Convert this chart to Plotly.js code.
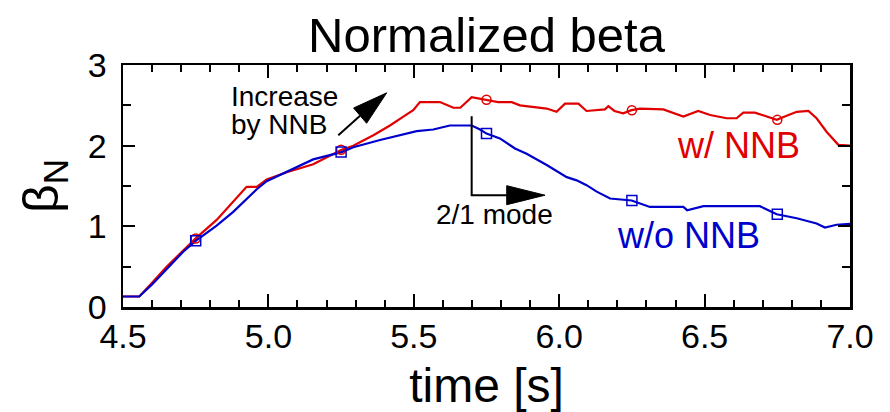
<!DOCTYPE html>
<html>
<head>
<meta charset="utf-8">
<script src="https://cdn.plot.ly/plotly-3.0.1.min.js"></script>
<style>html,body{margin:0;padding:0;background:#fff;}#chart{width:890px;height:412px;}</style>
</head>
<body>
<div id="chart"></div>
<script>
// ---- data ----
const timeWithNNB = [4.50,4.556,4.60,4.65,4.707,4.75,4.822,4.879,4.925,4.96,4.994,5.063,5.154,5.252,5.292,5.361,5.418,5.464,5.498,5.521,5.59,5.636,5.66,5.699,5.75,5.79,5.837,5.865,5.957,5.991,6.02,6.066,6.094,6.157,6.169,6.19,6.22,6.249,6.278,6.358,6.427,6.478,6.519,6.576,6.61,6.633,6.673,6.713,6.748,6.782,6.817,6.857,6.885,6.92,6.96,7.0];
const betaWithNNB = [0.13,0.13,0.30,0.50,0.70,0.85,1.08,1.30,1.49,1.49,1.58,1.67,1.77,1.95,2.00,2.13,2.25,2.36,2.44,2.54,2.54,2.47,2.47,2.60,2.57,2.54,2.54,2.50,2.46,2.42,2.52,2.52,2.43,2.45,2.49,2.43,2.40,2.44,2.46,2.45,2.36,2.43,2.38,2.34,2.34,2.41,2.41,2.36,2.32,2.37,2.42,2.43,2.34,2.17,2.01,2.00];

const timeWithoutNNB = [4.50,4.556,4.60,4.65,4.707,4.75,4.822,4.879,4.914,4.96,4.994,5.063,5.154,5.252,5.292,5.384,5.45,5.51,5.567,5.624,5.699,5.728,5.75,5.796,5.848,5.888,5.957,6.026,6.06,6.094,6.129,6.175,6.249,6.312,6.427,6.44,6.496,6.69,6.748,6.817,6.885,6.914,6.954,7.0];
const betaWithoutNNB = [0.13,0.13,0.28,0.47,0.685,0.82,1.01,1.18,1.30,1.46,1.56,1.68,1.83,1.92,1.98,2.07,2.13,2.18,2.20,2.25,2.25,2.20,2.15,2.09,1.965,1.90,1.76,1.61,1.57,1.51,1.43,1.345,1.32,1.24,1.24,1.20,1.25,1.25,1.15,1.10,1.035,0.985,1.02,1.03];

const markerTimes = [4.75,5.25,5.75,6.25,6.75];
const markerBetaWith = [0.85,1.95,2.57,2.44,2.32];
const markerBetaWithout = [0.82,1.92,2.15,1.32,1.15];

const xTickVals = [4.5,5.0,5.5,6.0,6.5,7.0];
const xTickText = ["4.5","5.0","5.5","6.0","6.5","7.0"];
const yTickVals = [0,1,2,3];
const yTickText = ["0","1","2","3"];

// ---- styling ----
const RED = '#e00000';
const BLUE = '#0000cc';
const FONT = 'Liberation Sans, Arial, sans-serif';

const traces = [
  {x: timeWithNNB, y: betaWithNNB, mode: 'lines', line: {color: RED, width: 2.2}, hoverinfo: 'skip'},
  {x: timeWithoutNNB, y: betaWithoutNNB, mode: 'lines', line: {color: BLUE, width: 2.2}, hoverinfo: 'skip'},
  {x: markerTimes, y: markerBetaWith, mode: 'markers',
   marker: {symbol: 'circle-open', size: 9, color: RED, line: {width: 1.5, color: RED}}},
  {x: markerTimes, y: markerBetaWithout, mode: 'markers',
   marker: {symbol: 'square-open', size: 10, color: BLUE, line: {width: 1.5, color: BLUE}}}
];

const axisCommon = {
  showgrid: false, zeroline: false, showline: true, linecolor: '#000', linewidth: 2.5,
  mirror: 'ticks', ticks: 'inside', tickcolor: '#000', tickwidth: 2,
  tickfont: {family: FONT, size: 34, color: '#000'}
};

const layout = {
  width: 890, height: 412,
  margin: {l: 123, r: 40, t: 65, b: 105},
  paper_bgcolor: '#fff', plot_bgcolor: '#fff',
  showlegend: false,
  font: {family: FONT, color: '#000'},
  title: {text: 'Normalized beta', font: {family: FONT, size: 49, color: '#000'},
          x: 0.5, xref: 'paper', y: 0.915, yref: 'container', yanchor: 'middle'},
  xaxis: Object.assign({}, axisCommon, {
    range: [4.5, 7.0], tickvals: xTickVals, ticktext: xTickText, ticklen: 13,
    minor: {dtick: 0.1, ticklen: 7, tickwidth: 2, tickcolor: '#000', ticks: 'inside'},
    ticklabelstandoff: -2,
    title: {text: 'time [s]', font: {family: FONT, size: 48, color: '#000'}, standoff: 22}
  }),
  yaxis: Object.assign({}, axisCommon, {
    range: [0, 3], tickvals: yTickVals, ticktext: yTickText, ticklen: 12,
    minor: {dtick: 0.5, ticklen: 8, tickwidth: 2, tickcolor: '#000', ticks: 'inside'},
    ticklabelstandoff: 7,
    title: {text: 'β<sub>N</sub>', font: {family: FONT, size: 50, color: '#000'}, standoff: 14}
  }),
  annotations: [
    {x: 4.8645, y: 2.61, xref: 'x', yref: 'y', text: 'Increase', showarrow: false,
     xanchor: 'left', yanchor: 'middle', font: {family: FONT, size: 28, color: '#000'}},
    {x: 4.8645, y: 2.26, xref: 'x', yref: 'y', text: 'by NNB', showarrow: false,
     xanchor: 'left', yanchor: 'middle', font: {family: FONT, size: 28, color: '#000'}},
    {x: 5.779, y: 1.15, xref: 'x', yref: 'y', text: '2/1 mode', showarrow: false,
     xanchor: 'center', yanchor: 'middle', font: {family: FONT, size: 28, color: '#000'}},
    {x: 6.618, y: 2.00, xref: 'x', yref: 'y', text: 'w/ NNB', showarrow: false,
     xanchor: 'center', yanchor: 'middle', font: {family: FONT, size: 36, color: RED}},
    {x: 6.446, y: 0.89, xref: 'x', yref: 'y', text: 'w/o NNB', showarrow: false,
     xanchor: 'center', yanchor: 'middle', font: {family: FONT, size: 36, color: BLUE}}
  ],
  shapes: [
    // "Increase by NNB" arrow shaft and head
    {type: 'line', xref: 'x', yref: 'y', x0: 5.2404, y0: 2.130, x1: 5.3153, y1: 2.372,
     line: {color: '#000', width: 2}},
    {type: 'path', xref: 'x', yref: 'y', path: 'M5.3377,2.278 L5.4068,2.655 L5.2930,2.467 Z',
     fillcolor: '#000', line: {color: '#000', width: 1}},
    // "2/1 mode" bent arrow
    {type: 'path', xref: 'x', yref: 'y', path: 'M5.699,2.366 L5.699,1.386 L5.8195,1.386',
     line: {color: '#000', width: 2}},
    {type: 'path', xref: 'x', yref: 'y', path: 'M5.8195,1.504 L5.9512,1.386 L5.8195,1.268 Z',
     fillcolor: '#000', line: {color: '#000', width: 1}}
  ]
};

Plotly.newPlot('chart', traces, layout, {staticPlot: true, displayModeBar: false});
</script>
</body>
</html>
